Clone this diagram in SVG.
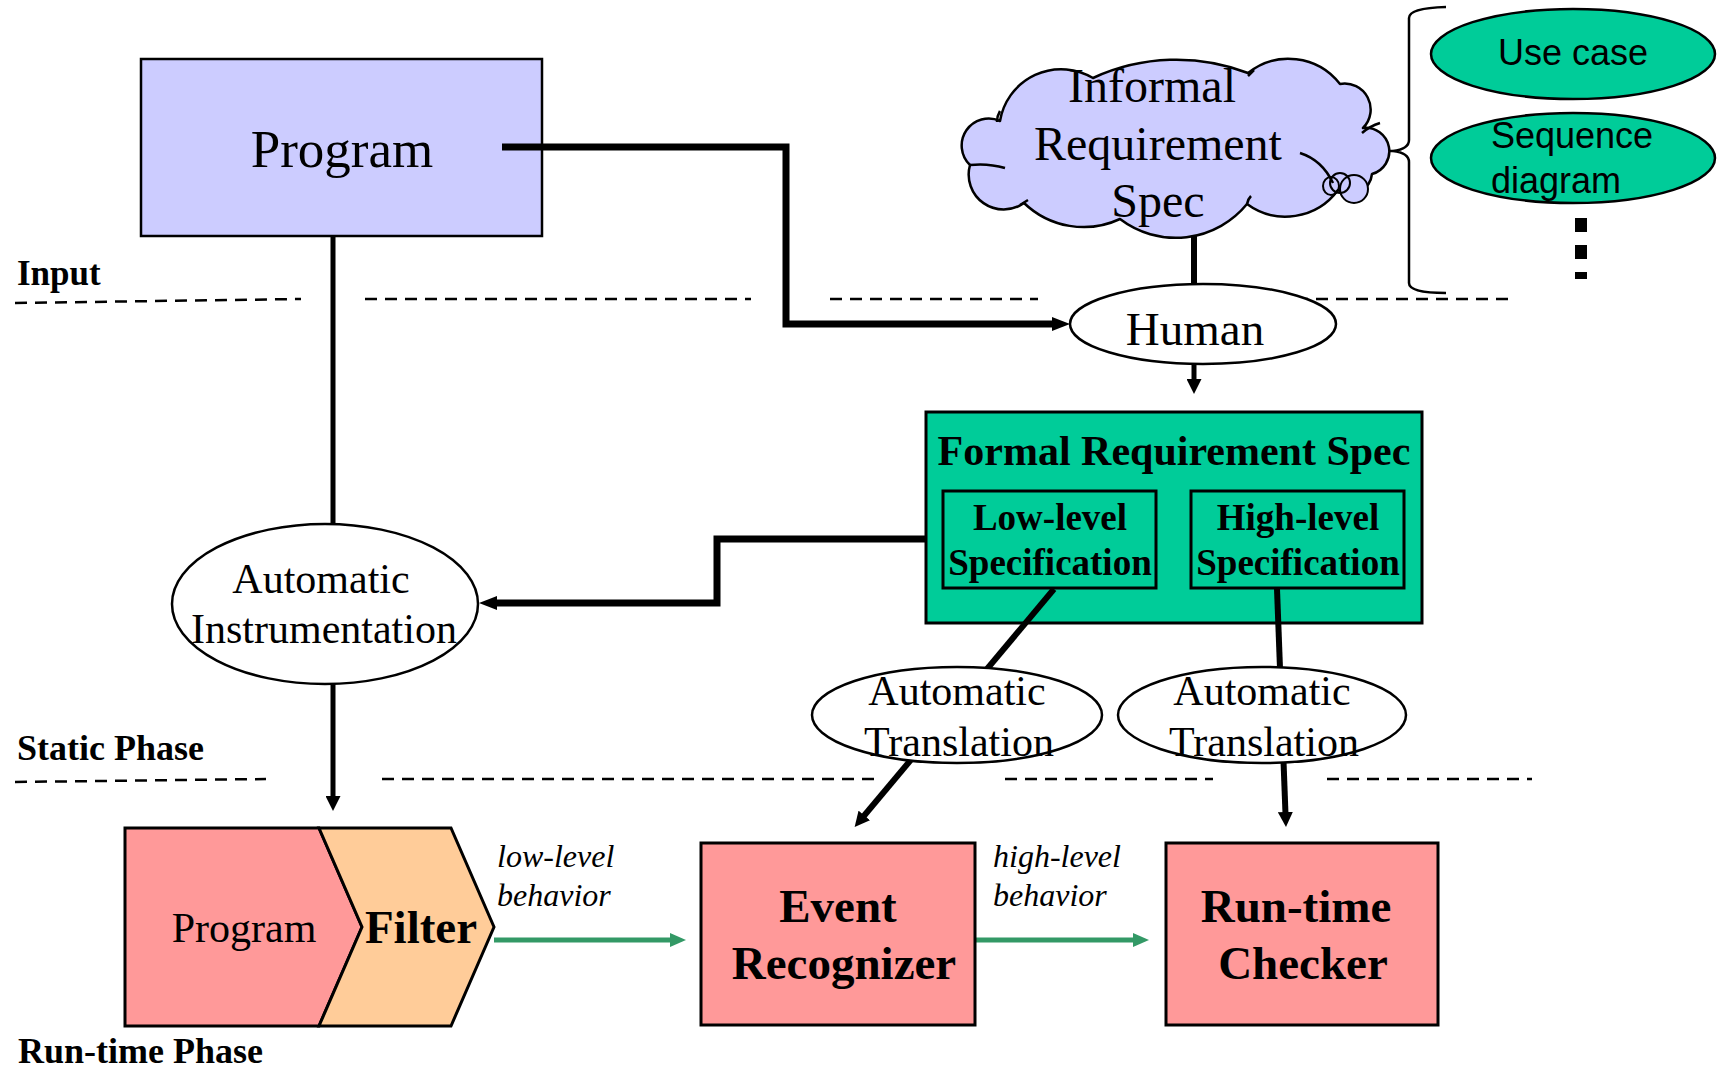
<svg xmlns="http://www.w3.org/2000/svg" width="1718" height="1069" viewBox="0 0 1718 1069">
<defs>
<style>
text{font-family:"Liberation Serif","Times New Roman",serif;fill:#000}
.sans{font-family:"Liberation Sans",Arial,sans-serif}
.b{font-weight:bold}
.i{font-style:italic}
.c{text-anchor:middle}
.box{stroke:#000;stroke-width:3}
.lav{fill:#CCCCFF}
.grn{fill:#00CC99}
.pink{fill:#FF9999}
.oval{fill:#fff;stroke:#000;stroke-width:2.5}
.wire{fill:none;stroke:#000}
.dash{fill:none;stroke:#000;stroke-width:2.5;stroke-dasharray:12 8}
.flow{fill:none;stroke:#339966;stroke-width:5}
</style>
<marker id="headL" markerUnits="userSpaceOnUse" viewBox="0 0 18 14" markerWidth="18" markerHeight="14" refX="2" refY="7" orient="auto"><path d="M0,0 L18,7 L0,14 z" fill="#000"/></marker>
<marker id="headS" markerUnits="userSpaceOnUse" viewBox="0 0 15 15" markerWidth="15" markerHeight="15" refX="2" refY="7.5" orient="auto"><path d="M0,0 L15,7.5 L0,15 z" fill="#000"/></marker>
<marker id="headG" markerUnits="userSpaceOnUse" viewBox="0 0 16 14" markerWidth="16" markerHeight="14" refX="2" refY="7" orient="auto"><path d="M0,0 L16,7 L0,14 z" fill="#339966"/></marker>
</defs>
<rect width="1718" height="1069" fill="#fff"/>

<!-- phase separators -->
<g id="phase-lines">
<path class="dash" d="M15,303 L301,299 M365,299 H751 M830,299 H1038 M1296,299 H1512"/>
<path class="dash" d="M15,782 L266,779 M382,779 H879 M1005,779 H1213 M1327,779 H1532"/>
<text class="b" x="17" y="285" font-size="35">Input</text>
<text class="b" x="17" y="760" font-size="36">Static Phase</text>
<text class="b" x="18" y="1063" font-size="36">Run-time Phase</text>
</g>

<g id="program">
<rect class="lav" x="141" y="59" width="401" height="177" stroke="#000" stroke-width="2.5"/>
<text class="c" x="342" y="167" font-size="53">Program</text>
</g>

<g id="formal-spec">
<rect class="grn box" x="926" y="412" width="496" height="211"/>
<text class="b c" x="1174" y="465" font-size="42">Formal Requirement Spec</text>
</g>

<g id="low-level-spec">
<rect class="grn box" x="943" y="491" width="213" height="97"/>
<text class="b c" x="1050" y="530" font-size="37">Low-level</text>
<text class="b c" x="1050" y="575" font-size="37">Specification</text>
</g>

<g id="high-level-spec">
<rect class="grn box" x="1191" y="491" width="213" height="97"/>
<text class="b c" x="1298" y="530" font-size="37">High-level</text>
<text class="b c" x="1298" y="575" font-size="37">Specification</text>
</g>

<g id="connectors">
<path class="wire" stroke-width="7" d="M502,147 H786 V324 H1054" marker-end="url(#headL)"/>
<path class="wire" stroke-width="5" d="M333,236 V526"/>
<path class="wire" stroke-width="5" d="M333,683 V798" marker-end="url(#headS)"/>
<path class="wire" stroke-width="6" d="M1194,228 V286"/>
<path class="wire" stroke-width="5" d="M1194,362 V381" marker-end="url(#headS)"/>
<path class="wire" stroke-width="7" d="M926,539 H717 V603 H495" marker-end="url(#headL)"/>
<path class="wire" stroke-width="6" d="M1054,589 L863,817" marker-end="url(#headS)"/>
<path class="wire" stroke-width="6" d="M1277,589 L1285.5,814" marker-end="url(#headS)"/>
<path class="flow" d="M494,940 H672" marker-end="url(#headG)"/>
<path class="flow" d="M975,940 H1135" marker-end="url(#headG)"/>
<path class="wire" stroke-width="2.5" d="M1370,151 H1393"/>
</g>

<g id="informal-spec">
<path class="lav" stroke="#000" stroke-width="2.5" stroke-linejoin="round" d="M1000,121 A62,62 0 0 1 1093,78 A200,200 0 0 1 1248,73 A65,65 0 0 1 1340,84 A26,26 0 0 1 1363,128 A23.5,23.5 0 0 1 1372,174 A22,22 0 0 1 1338,190 A65,65 0 0 1 1247,204 A92,92 0 0 1 1120,219 A86,86 0 0 1 1024,203 A35,35 0 0 1 970,165 A27,27 0 0 1 1000,121 Z"/>
<path class="wire" stroke-width="2.5" d="M970,165 Q988,163 1005,168 M1020,205 L1028,200 M1247,204 Q1248,199 1251,196 M1300,153 Q1322,160 1333,183 M1362,133 Q1370,126 1380,123 M1248,76 L1254,70 M997,122 Q997,116 1000,111"/>
<circle cx="1354" cy="189" r="14" fill="#CCCCFF" stroke="#000" stroke-width="2"/>
<circle cx="1340" cy="183" r="10" fill="none" stroke="#000" stroke-width="2"/>
<ellipse cx="1331" cy="186" rx="8" ry="9" fill="none" stroke="#000" stroke-width="2"/>
<text class="c" x="1152" y="102" font-size="48">Informal</text>
<text class="c" x="1158" y="160" font-size="48">Requirement</text>
<text class="c" x="1158" y="217" font-size="48">Spec</text>
</g>

<g id="spec-forms">
<path class="wire" stroke-width="2.5" d="M1446,7 Q1409,8 1409,18 V140 Q1409,149 1393,151 Q1409,153 1409,162 V283 Q1409,293 1446,293"/>
<ellipse cx="1573" cy="54" rx="142" ry="45" class="grn" stroke="#000" stroke-width="2.5"/>
<text class="sans c" x="1573" y="65" font-size="36">Use case</text>
<ellipse cx="1573" cy="158" rx="142" ry="45" class="grn" stroke="#000" stroke-width="2.5"/>
<text class="sans" x="1491" y="148" font-size="36">Sequence</text>
<text class="sans" x="1491" y="193" font-size="36">diagram</text>
<rect x="1575" y="218" width="12" height="14"/>
<rect x="1575" y="245" width="12" height="14"/>
<rect x="1575" y="272" width="12" height="7"/>
</g>

<g id="human">
<ellipse class="oval" cx="1203" cy="324" rx="133" ry="40"/>
<text class="c" x="1195" y="345" font-size="47">Human</text>
</g>

<g id="auto-instrumentation">
<ellipse class="oval" cx="325" cy="604" rx="153" ry="80"/>
<text class="c" x="321" y="593" font-size="42">Automatic</text>
<text class="c" x="324" y="643" font-size="42">Instrumentation</text>
</g>

<g id="auto-translation-low">
<ellipse class="oval" cx="957" cy="715" rx="145" ry="48"/>
<text class="c" x="957" y="705" font-size="42">Automatic</text>
<text class="c" x="959" y="756" font-size="42">Translation</text>
</g>

<g id="auto-translation-high">
<ellipse class="oval" cx="1262" cy="715" rx="144" ry="48"/>
<text class="c" x="1262" y="705" font-size="42">Automatic</text>
<text class="c" x="1264" y="756" font-size="42">Translation</text>
</g>

<g id="runtime-program">
<polygon class="pink box" points="125,828 319,828 362,927 319,1026 125,1026"/>
<text class="c" x="244" y="942" font-size="42">Program</text>
</g>

<g id="filter">
<polygon class="box" fill="#FFCC99" points="319,828 451,828 494,927 451,1026 319,1026 362,927"/>
<text class="b c" x="421" y="943" font-size="47">Filter</text>
</g>

<g id="flow-labels">
<text class="i" x="497" y="867" font-size="32">low-level</text>
<text class="i" x="497" y="906" font-size="32">behavior</text>
<text class="i" x="993" y="867" font-size="32">high-level</text>
<text class="i" x="993" y="906" font-size="32">behavior</text>
</g>

<g id="event-recognizer">
<rect class="pink box" x="701" y="843" width="274" height="182"/>
<text class="b c" x="838" y="922" font-size="47">Event</text>
<text class="b c" x="844" y="979" font-size="47">Recognizer</text>
</g>

<g id="runtime-checker">
<rect class="pink box" x="1166" y="843" width="272" height="182"/>
<text class="b c" x="1296" y="922" font-size="47">Run-time</text>
<text class="b c" x="1303" y="979" font-size="47">Checker</text>
</g>
</svg>
